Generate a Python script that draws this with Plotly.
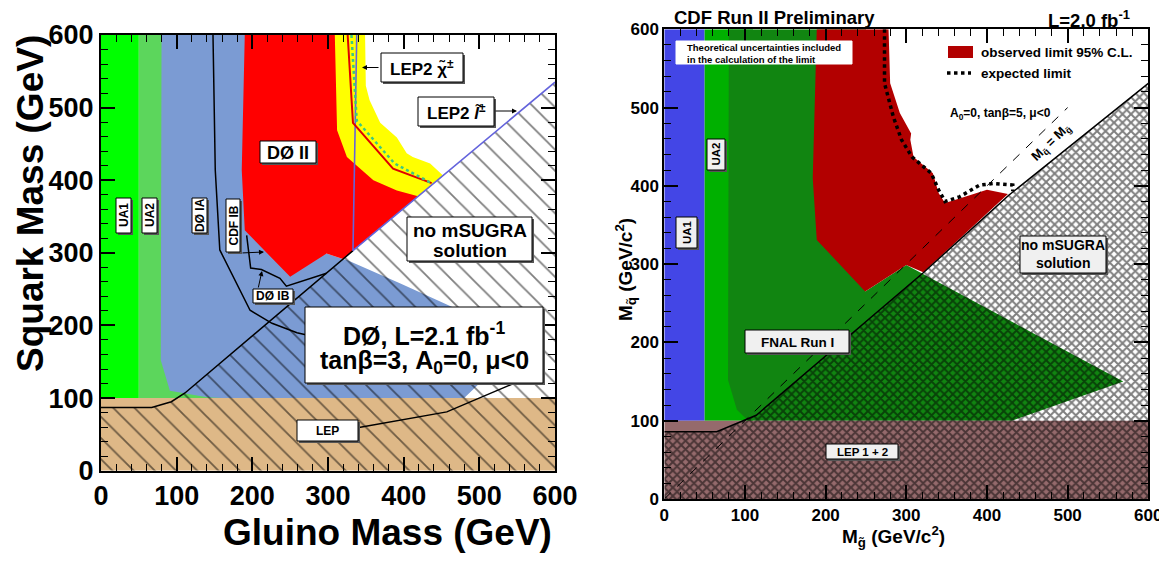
import plotly.graph_objects as go

# The page body has an 8px default margin, so the figure is drawn 8px smaller
# and every layout position below is given in window pixels minus that offset.
OFF = 8
W, H = 1167 - OFF, 561 - OFF
FONT = "Liberation Sans"

# ================= Left panel (DØ), masses in GeV =================
d0_ua1_x = [0, 50, 50, 0]
d0_ua1_y = [100, 100, 600, 600]
d0_ua2_x = [50, 160, 160, 50]
d0_ua2_y = [100, 100, 600, 600]
d0_run1_x = [80, 250, 250, 298, 320, 325, 395, 465, 505, 515, 500, 480, 160, 140, 91, 79]
d0_run1_y = [600, 600, 300, 299, 291.5, 290, 258, 225, 190, 150, 120, 100, 100, 101, 110, 152]
d0_band_x = [300, 349, 350, 355, 369, 391, 404, 412, 435, 452, 419, 300]
d0_band_y = [600, 600, 530, 510, 479, 459, 437, 432, 423, 406.5, 378, 378]
d0_excl_x = [190, 186, 190, 250, 298, 320, 419, 391, 360, 325, 312, 309]
d0_excl_y = [600, 414, 331, 267, 299, 291.5, 378, 386, 400, 432, 469, 600]
d0_lep_x = [0, 600, 600, 0]
d0_lep_y = [0, 0, 100, 100]
d0_nosol_x = [0, 0, 67, 93, 111, 333, 600, 600]
d0_nosol_y = [0, 87, 87, 95, 107, 303, 535, 0]
d0_bound_x = [0, 67, 93, 111, 333]
d0_bound_y = [87, 87, 95, 107, 303]
d0_lep2_x = [338, 333, 600]
d0_lep2_y = [600, 303, 535]
d0_obs_x = [326, 333, 386, 437]
d0_obs_y = [600, 479, 416, 396]
d0_exp_x = [331, 338, 388, 435]
d0_exp_y = [600, 482, 423, 397]
d0_ia_x = [148, 151, 157, 197, 226, 259, 272]
d0_ia_y = [600, 414, 304, 221, 203, 190, 187]
d0_ib_x = [192.5, 197.8, 212, 236.5, 245, 298]
d0_ib_y = [324, 279, 277, 265, 254, 272]
d0_lepline_x = [339, 457, 545]
d0_lepline_y = [59, 81, 120]

# ================= Right panel (CDF), masses in GeV/c^2 =================
cdf_ua1_x = [0, 50, 50, 0]
cdf_ua1_y = [100, 100, 600, 600]
cdf_ua2_x = [50, 110, 110, 50]
cdf_ua2_y = [100, 100, 600, 600]
cdf_run1_x = [80, 250, 250, 249, 300, 569, 431, 104, 90, 79]
cdf_run1_y = [600, 600, 275, 265, 299, 150, 100, 100, 114, 152]
cdf_obs_x = [189, 184, 189, 249, 300, 321, 426, 400, 366, 348, 340, 333, 309, 305, 306, 292, 280, 278]
cdf_obs_y = [600, 410, 331, 265, 299, 289.5, 389.5, 395, 384, 378, 391, 416, 437, 459, 467, 493, 531, 600]
cdf_exp_x = [273, 273, 284, 294, 307, 331, 340, 348, 366, 391, 408, 432, 432]
cdf_exp_y = [600, 531, 488, 459, 437, 416, 395, 380, 386, 401, 403, 401, 393]
cdf_lep_x = [0, 600, 600, 0]
cdf_lep_y = [0, 0, 100, 100]
cdf_nosol_x = [0, 0, 65, 114, 251, 321, 427, 600, 600]
cdf_nosol_y = [0, 86, 86, 107, 228, 289, 388, 531, 0]
cdf_bound_x = [0, 65, 114, 251, 321, 427, 600]
cdf_bound_y = [86, 86, 107, 228, 289, 388, 531]
cdf_diag_x = [0, 500]
cdf_diag_y = [0, 500]

tick_vals = [0, 100, 200, 300, 400, 500, 600]
tick_text = ["0", "100", "200", "300", "400", "500", "600"]

fig = go.Figure()


def area(x, y, color, xa, ya, pattern=None):
    kw = {}
    if pattern is not None:
        kw["fillpattern"] = pattern
    fig.add_trace(go.Scatter(x=x, y=y, xaxis=xa, yaxis=ya, mode="lines",
                             fill="toself", fillcolor=color,
                             line=dict(width=0, color=color),
                             hoverinfo="skip", showlegend=False, **kw))


def curve(x, y, color, width, xa, ya, dash="solid"):
    fig.add_trace(go.Scatter(x=x, y=y, xaxis=xa, yaxis=ya, mode="lines",
                             line=dict(color=color, width=width, dash=dash),
                             hoverinfo="skip", showlegend=False))


# left panel
area(d0_ua1_x, d0_ua1_y, "#00ff00", "x", "y")
area(d0_ua2_x, d0_ua2_y, "#5cd65c", "x", "y")
area(d0_run1_x, d0_run1_y, "#7b9bd3", "x", "y")
area(d0_band_x, d0_band_y, "#ffff00", "x", "y")
area(d0_excl_x, d0_excl_y, "#ff0000", "x", "y")
area(d0_lep_x, d0_lep_y, "#deb887", "x", "y")
area(d0_nosol_x, d0_nosol_y, "rgba(0,0,0,0)", "x", "y",
     pattern=dict(shape="\\", fgcolor="black", bgcolor="rgba(0,0,0,0)",
                  size=15, solidity=0.12, fillmode="overlay"))
curve(d0_bound_x, d0_bound_y, "black", 1.5, "x", "y")
curve(d0_lep2_x, d0_lep2_y, "#6464dc", 1.6, "x", "y")
curve(d0_obs_x, d0_obs_y, "#e00000", 2, "x", "y")
curve(d0_exp_x, d0_exp_y, "#3cc882", 2.5, "x", "y", dash="dot")
curve(d0_ia_x, d0_ia_y, "black", 1.5, "x", "y")
curve(d0_ib_x, d0_ib_y, "black", 1.5, "x", "y")
curve(d0_lepline_x, d0_lepline_y, "black", 1.5, "x", "y")

# right panel
area(cdf_ua1_x, cdf_ua1_y, "#4346e6", "x2", "y2")
area(cdf_ua2_x, cdf_ua2_y, "#00b000", "x2", "y2")
area(cdf_run1_x, cdf_run1_y, "#118511", "x2", "y2")
area(cdf_obs_x, cdf_obs_y, "#b20000", "x2", "y2")
area(cdf_lep_x, cdf_lep_y, "#956a6c", "x2", "y2")
area(cdf_nosol_x, cdf_nosol_y, "rgba(0,0,0,0)", "x2", "y2",
     pattern=dict(shape="x", fgcolor="black", bgcolor="rgba(0,0,0,0)",
                  size=6, solidity=0.55, fillmode="overlay"))
curve(cdf_bound_x, cdf_bound_y, "black", 1.5, "x2", "y2")
curve(cdf_diag_x, cdf_diag_y, "black", 1, "x2", "y2", dash="dash")
curve(cdf_exp_x, cdf_exp_y, "black", 3.5, "x2", "y2", dash="dot")


def X(px):
    return (px - OFF) / W


def Y(py):
    return 1 - (py - OFF) / H


def axis(domain, size, anchor):
    return dict(domain=domain, range=[0, 600], anchor=anchor, automargin=False,
                showline=True, linecolor="black", linewidth=2, mirror="allticks",
                ticks="inside", ticklen=14, tickwidth=1.5, tickcolor="black",
                tickvals=tick_vals, ticktext=tick_text,
                minor=dict(ticks="inside", ticklen=7, dtick=20, tick0=0,
                           tickwidth=1, tickcolor="black"),
                showgrid=False, zeroline=False, fixedrange=True,
                tickfont=dict(family=FONT, size=size, color="black", weight="bold"))


shapes = []
ann = []


def box(x0, y0, x1, y1, fill="white", border="black", shadow="#555555", bw=1):
    if shadow:
        shapes.append(dict(type="rect", xref="paper", yref="paper",
                           x0=X(x0 + 2), x1=X(x1 + 2), y0=Y(y0 + 2), y1=Y(y1 + 2),
                           fillcolor=shadow, line=dict(width=0), layer="above"))
    shapes.append(dict(type="rect", xref="paper", yref="paper",
                       x0=X(x0), x1=X(x1), y0=Y(y0), y1=Y(y1),
                       fillcolor=fill, line=dict(color=border, width=bw), layer="above"))


def text(px, py, s, size, angle=0, xanchor="center"):
    ann.append(dict(xref="paper", yref="paper", x=X(px), y=Y(py), text=s,
                    showarrow=False, xanchor=xanchor, yanchor="middle",
                    textangle=angle,
                    font=dict(family=FONT, size=size, color="black", weight="bold")))


def arrow(hx, hy, tx, ty):
    ann.append(dict(xref="paper", yref="paper", x=X(hx), y=Y(hy), text="",
                    showarrow=True, ax=tx - hx, ay=ty - hy, arrowhead=2,
                    arrowsize=1, arrowwidth=1, arrowcolor="black"))


# ---- left panel labels ----
box(260, 141, 316, 163)
text(288, 152.5, "DØ II", 18)
box(381, 53, 463, 82)
text(422, 68, "LEP2 χ̃<sup>±</sup>", 17)
arrow(362, 67.5, 380, 67.5)
box(418, 97, 494, 126)
text(456, 112, "LEP2 <i>l̃</i><sup>±</sup>", 17)
arrow(517, 111, 494, 111)
box(407, 217, 532, 261)
text(469.5, 230, "no mSUGRA", 19)
text(469.5, 250, "solution", 19)
box(305, 307, 543, 383)
text(424, 334, "DØ, L=2.1 fb<sup>-1</sup>", 25)
text(424, 362, "tanβ=3, A<sub>0</sub>=0, μ<0", 25)
box(297, 420, 358, 441)
text(327.5, 431, "LEP", 12)
box(116, 198, 131, 233)
text(123.5, 215.5, "UA1", 12, angle=-90)
box(142, 198, 157, 233)
text(149.5, 215.5, "UA2", 12, angle=-90)
box(192, 198, 207, 233)
text(199.5, 215.5, "DØ IA", 12, angle=-90)
box(226, 199, 240, 252)
text(233, 225.5, "CDF IB", 12, angle=-90)
arrow(264, 252, 241, 253)
box(253, 289, 293, 303)
text(273, 296, "DØ IB", 12)
arrow(262, 271, 258, 289)
text(30, 204, "Squark Mass (GeV)", 37, angle=-90)
text(388, 532, "Gluino Mass (GeV)", 37)

# ---- right panel labels ----
text(774, 18, "CDF Run II Preliminary", 18.5)
text(1089, 19, "L=2.0 fb<sup>-1</sup>", 18.5)
box(676, 41, 852, 64, shadow=None, border="white")
text(685, 47, "Theoretical uncertainties included", 9.5, xanchor="left")
text(685, 59, "in the calculation of the limit", 9.5, xanchor="left")
shapes.append(dict(type="rect", xref="paper", yref="paper", x0=X(948), x1=X(973),
                   y0=Y(58), y1=Y(46), fillcolor="#b20000", line=dict(width=0),
                   layer="above"))
text(979, 52, "observed limit 95% C.L.", 13.5, xanchor="left")
shapes.append(dict(type="line", xref="paper", yref="paper", x0=X(947), x1=X(971),
                   y0=Y(73), y1=Y(73), line=dict(color="black", width=3.5, dash="dot"),
                   layer="above"))
text(979, 73, "expected limit", 13.5, xanchor="left")
text(948, 114, "A<sub>0</sub>=0, tanβ=5, μ<0", 12, xanchor="left")
text(1051, 142, "M<sub>q̃</sub> = M<sub>g̃</sub>", 13, angle=-44)
box(1020, 236, 1106, 273, fill="#f0f0f0")
text(1063, 245, "no mSUGRA", 14)
text(1063, 263, "solution", 14)
box(745, 330, 849, 353, fill="#f0f0f0")
text(797, 342, "FNAL Run I", 13.5)
box(826, 444, 898, 459, fill="#f0f0f0")
text(862, 452, "LEP 1 + 2", 11.5)
box(676, 217, 697, 248, fill="#f0f0f0")
text(686.5, 232.5, "UA1", 11.5, angle=-90)
box(707, 139, 725, 170, fill="#f0f0f0")
text(716, 154.5, "UA2", 11.5, angle=-90)
text(893, 536, "M<sub>g̃</sub> (GeV/c<sup>2</sup>)", 19)
text(625, 270, "M<sub>q̃</sub> (GeV/c<sup>2</sup>)", 19, angle=-90)

fig.update_layout(
    width=W, height=H, margin=dict(l=0, r=0, t=0, b=0),
    paper_bgcolor="white", plot_bgcolor="white",
    xaxis=axis([X(101), X(555)], 27, "y"),
    yaxis=axis([Y(470.7), Y(35)], 27, "x"),
    xaxis2=axis([X(664.3), X(1148.3)], 17, "y2"),
    yaxis2=axis([Y(499), Y(29.3)], 17, "x2"),
    shapes=shapes, annotations=ann, showlegend=False,
)

fig.write_html("out.html")
